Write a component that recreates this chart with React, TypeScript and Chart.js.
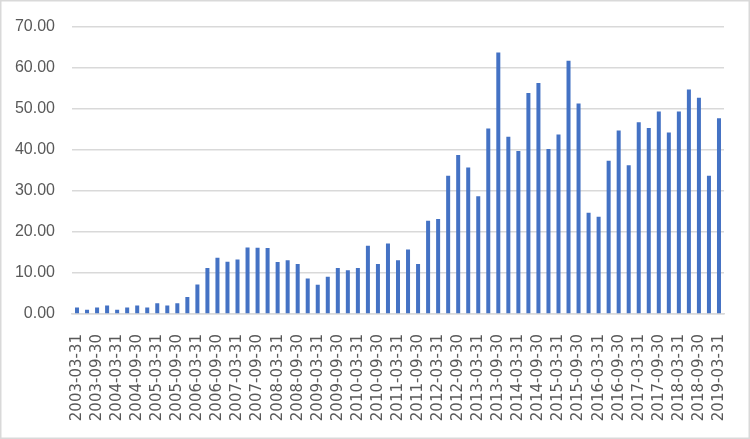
import React, { useEffect, useRef } from "react";
import { Chart, registerables } from "chart.js";

Chart.register(...registerables);

const categories: string[] = [
  "2003-03-31", "2003-06-30", "2003-09-30", "2003-12-31",
  "2004-03-31", "2004-06-30", "2004-09-30", "2004-12-31",
  "2005-03-31", "2005-06-30", "2005-09-30", "2005-12-31",
  "2006-03-31", "2006-06-30", "2006-09-30", "2006-12-31",
  "2007-03-31", "2007-06-30", "2007-09-30", "2007-12-31",
  "2008-03-31", "2008-06-30", "2008-09-30", "2008-12-31",
  "2009-03-31", "2009-06-30", "2009-09-30", "2009-12-31",
  "2010-03-31", "2010-06-30", "2010-09-30", "2010-12-31",
  "2011-03-31", "2011-06-30", "2011-09-30", "2011-12-31",
  "2012-03-31", "2012-06-30", "2012-09-30", "2012-12-31",
  "2013-03-31", "2013-06-30", "2013-09-30", "2013-12-31",
  "2014-03-31", "2014-06-30", "2014-09-30", "2014-12-31",
  "2015-03-31", "2015-06-30", "2015-09-30", "2015-12-31",
  "2016-03-31", "2016-06-30", "2016-09-30", "2016-12-31",
  "2017-03-31", "2017-06-30", "2017-09-30", "2017-12-31",
  "2018-03-31", "2018-06-30", "2018-09-30", "2018-12-31",
  "2019-03-31",
];

const values: number[] = [
  1.6, 1.05, 1.6, 2.1, 1.05, 1.6, 2.1, 1.6,
  2.6, 2.1, 2.6, 4.15, 7.2, 11.2, 13.7, 12.75,
  13.25, 16.2, 16.15, 16.1, 12.65, 13.1, 12.2, 8.65,
  7.1, 9.1, 11.2, 10.65, 11.2, 16.65, 12.2, 17.15,
  13.1, 15.7, 12.2, 22.7, 23.15, 33.65, 38.7, 35.7,
  28.7, 45.2, 63.7, 43.2, 39.7, 53.8, 56.25, 40.2,
  43.7, 61.7, 51.3, 24.65, 23.7, 37.3, 44.7, 36.2,
  46.7, 45.3, 49.3, 44.2, 49.3, 54.7, 52.7, 33.65,
  47.7,
];

const yTicks: number[] = [0, 10, 20, 30, 40, 50, 60, 70];

const borderPlugin = {
  id: "outerBorder",
  afterDraw(chart: any) {
    const ctx = chart.ctx;
    ctx.save();
    ctx.strokeStyle = "#d9d9d9";
    ctx.lineWidth = 1.5;
    ctx.strokeRect(0.75, 0.75, chart.width - 1.5, chart.height - 1.5);
    ctx.restore();
  },
};

export default function App() {
  const ref = useRef<HTMLCanvasElement | null>(null);

  useEffect(() => {
    document.body.style.margin = "0";
    const canvas = ref.current;
    if (!canvas) return;
    const chart = new Chart(canvas, {
      type: "bar",
      data: {
        labels: categories,
        datasets: [
          {
            data: values,
            backgroundColor: "#4472C4",
            borderWidth: 0,
            categoryPercentage: 1,
            barPercentage: 0.4,
          },
        ],
      },
      options: {
        responsive: false,
        animation: false,
        layout: { padding: { left: 0, right: 26, top: 23, bottom: 0 } },
        plugins: {
          legend: { display: false },
          tooltip: { enabled: false },
        },
        scales: {
          x: {
            grid: { display: false },
            border: { display: true, color: "#d9d9d9", width: 1.5 },
            ticks: {
              autoSkip: false,
              minRotation: 90,
              maxRotation: 90,
              padding: 12,
              color: "#595959",
              font: { family: "'DejaVu Sans'", size: 15 },
              callback: (_v: any, i: number) => (i % 2 === 0 ? categories[i] : ""),
            },
            afterFit: (s: any) => {
              s.height = 125;
            },
          },
          y: {
            min: 0,
            max: 70,
            afterBuildTicks: (s: any) => {
              s.ticks = yTicks.map((v) => ({ value: v }));
            },
            grid: { color: "#d9d9d9", lineWidth: 1.5, drawTicks: false },
            border: { display: false },
            ticks: {
              padding: 17,
              color: "#595959",
              font: { family: "'Liberation Sans'", size: 16 },
              callback: (v: any) => Number(v).toFixed(2),
            },
            afterFit: (s: any) => {
              s.width = 72;
            },
          },
        },
      },
      plugins: [borderPlugin],
    });
    return () => chart.destroy();
  }, []);

  return (
    <div style={{ width: 750, height: 439 }}>
      <canvas ref={ref} width={750} height={439} style={{ display: "block", width: 750, height: 439 }} />
    </div>
  );
}
